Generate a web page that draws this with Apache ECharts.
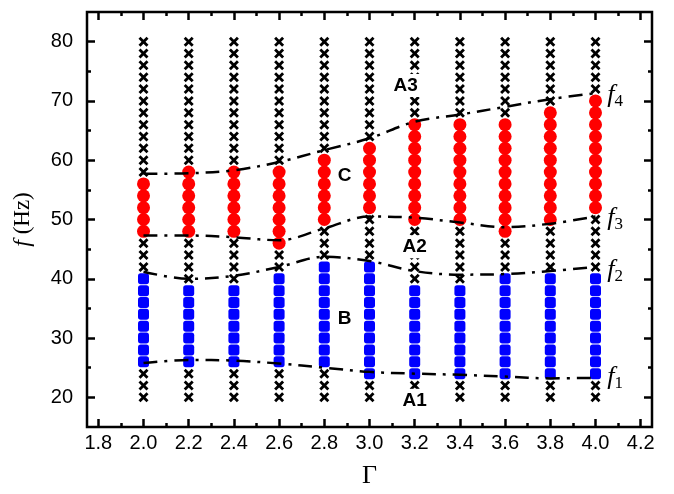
<!DOCTYPE html>
<html><head><meta charset="utf-8">
<script src="https://cdn.jsdelivr.net/npm/echarts@6/dist/echarts.min.js"></script>
<style>html,body{margin:0;padding:0;background:#fff}#c{width:674px;height:494px}</style>
</head><body><div id="c"></div>
<script>
// ---- data ----
const gammas = [2.0, 2.2, 2.4, 2.6, 2.8, 3.0, 3.2, 3.4, 3.6, 3.8, 4.0];
const freqs = [20, 22, 24, 26, 28, 30, 32, 34, 36, 38, 40, 42, 44, 46, 48, 50,
               52, 54, 56, 58, 60, 62, 64, 66, 68, 70, 72, 74, 76, 78, 80];
// red circles (region C) per column: highest and lowest frequency
const redHigh  = [56, 58, 58, 58, 60, 62, 66, 66, 66, 68, 70];
const redLow   = [48, 48, 48, 46, 50, 52, 50, 50, 48, 50, 52];
// blue squares (region B) per column
const blueHigh = [40, 38, 38, 40, 42, 42, 38, 38, 40, 40, 40];
const blueLow  = [26, 26, 26, 26, 26, 24, 24, 24, 24, 24, 24];
// boundary curves
const f1 = [25.8, 26.3, 26.2, 25.7, 25.0, 24.3, 24.0, 23.8, 23.5, 23.2, 23.3];
const f2 = [41.2, 40.0, 40.5, 42.0, 43.7, 43.0, 41.3, 40.7, 40.8, 41.3, 42.0];
const f3 = [47.3, 47.3, 47.0, 46.5, 48.5, 50.5, 50.3, 49.5, 48.7, 49.3, 50.5];
const f4 = [57.7, 57.8, 58.3, 59.7, 61.7, 63.7, 66.5, 67.7, 69.0, 70.3, 71.3];
// tick labels
const xTicks = [1.8, 2.0, 2.2, 2.4, 2.6, 2.8, 3.0, 3.2, 3.4, 3.6, 3.8, 4.0, 4.2];
const xMinorTicks = [1.9, 2.1, 2.3, 2.5, 2.7, 2.9, 3.1, 3.3, 3.5, 3.7, 3.9, 4.1];
const yTicks = [20, 30, 40, 50, 60, 70, 80];
const yMinorTicks = [25, 35, 45, 55, 65, 75];
// region labels
const regionLabels = [
  {name: 'A3', value: [3.16, 72.6]},
  {name: 'C',  value: [2.89, 57.3]},
  {name: 'A2', value: [3.2, 45.4]},
  {name: 'B',  value: [2.89, 33.3]},
  {name: 'A1', value: [3.2, 19.5]}
];
const curveLabels = [
  {name: '4', value: [4.05, 71.0]},
  {name: '3', value: [4.05, 50.3]},
  {name: '2', value: [4.05, 41.5]},
  {name: '1', value: [4.05, 23.4]}
];

// ---- build point sets ----
const crosses = [], circles = [], squares = [];
gammas.forEach((g, i) => {
  freqs.forEach(f => {
    if (f <= redHigh[i] && f >= redLow[i]) circles.push([g, f]);
    else if (f <= blueHigh[i] && f >= blueLow[i]) squares.push([g, f]);
    else crosses.push([g, f]);
  });
});
const pair = arr => gammas.map((g, i) => [g, arr[i]]);

const crossPath = 'path://M0,2L2,0L5,3L8,0L10,2L7,5L10,8L8,10L5,7L2,10L0,8L3,5Z';
const sans = 'Liberation Sans, Arial, sans-serif';
const serif = 'Liberation Serif, Times New Roman, serif';
const dashDot = [14, 7, 3, 7];

function xAxisDef(pos, ticks, len, labels) {
  return {
    type: 'value', min: 1.75, max: 4.25, position: pos,
    axisLine: {show: false}, splitLine: {show: false},
    axisTick: {show: true, inside: true, length: len, customValues: ticks,
               lineStyle: {color: '#000', width: 2.5}},
    axisLabel: labels ? {show: true, customValues: ticks, color: '#000',
               fontFamily: sans, fontSize: 20, margin: 6,
               formatter: v => v.toFixed(1)} : {show: false}
  };
}
function yAxisDef(pos, ticks, len, labels) {
  return {
    type: 'value', min: 15, max: 85, position: pos,
    axisLine: {show: false}, splitLine: {show: false},
    axisTick: {show: true, inside: true, length: len, customValues: ticks,
               lineStyle: {color: '#000', width: 2.5}},
    axisLabel: labels ? {show: true, customValues: ticks, color: '#000',
               fontFamily: sans, fontSize: 20, margin: 14} : {show: false}
  };
}

const xA = [xAxisDef('bottom', xTicks, 8, true), xAxisDef('bottom', xMinorTicks, 4, false),
            xAxisDef('top', xTicks, 8, false), xAxisDef('top', xMinorTicks, 4, false)];
xA[0].name = 'Γ';
xA[0].nameLocation = 'middle';
xA[0].nameGap = 36;
xA[0].nameTextStyle = {fontFamily: serif, fontSize: 26, color: '#000'};
const yA = [yAxisDef('left', yTicks, 8, true), yAxisDef('left', yMinorTicks, 4, false),
            yAxisDef('right', yTicks, 8, false), yAxisDef('right', yMinorTicks, 4, false)];
yA[0].name = '{i|f} (Hz)';
yA[0].nameLocation = 'middle';
yA[0].nameGap = 52;
yA[0].nameRotate = 90;
yA[0].nameTextStyle = {fontFamily: serif, fontSize: 23, color: '#000',
  rich: {i: {fontFamily: serif, fontStyle: 'italic', fontSize: 24, color: '#000'}}};

function curve(arr) {
  return {type: 'line', data: pair(arr), symbol: 'none', smooth: 0.35, z: 4,
          lineStyle: {color: '#000', width: 2.5, type: dashDot}, silent: true};
}

const option = {
  animation: false,
  backgroundColor: '#fff',
  grid: {left: 87, right: 22, top: 12, bottom: 66, show: true,
         borderColor: '#000', borderWidth: 2.5, backgroundColor: 'transparent'},
  xAxis: xA,
  yAxis: yA,
  series: [
    {type: 'scatter', data: crosses, symbol: crossPath, symbolSize: 10, z: 2,
     itemStyle: {color: '#000', opacity: 1}},
    {type: 'scatter', data: circles, symbol: 'circle', symbolSize: 13, z: 2,
     itemStyle: {color: '#ff0000', opacity: 1}},
    {type: 'scatter', data: squares, symbol: 'roundRect', symbolSize: 11, z: 2,
     itemStyle: {color: '#0000ff', opacity: 1}},
    curve(f1), curve(f2), curve(f3), curve(f4),
    {type: 'scatter', data: regionLabels, symbolSize: 1, z: 6,
     itemStyle: {color: 'rgba(0,0,0,0)', opacity: 1},
     label: {show: true, position: 'inside', formatter: p => p.name,
             fontFamily: sans, fontWeight: 'bold', fontSize: 19, opacity: 1,
             color: '#000', textBorderWidth: 0, textBorderColor: 'transparent',
             backgroundColor: '#fff', padding: [2, 3]}},
    {type: 'scatter', data: curveLabels, symbolSize: 1, z: 6,
     itemStyle: {color: 'rgba(0,0,0,0)', opacity: 1},
     label: {show: true, position: 'right', distance: 0, opacity: 1,
             formatter: p => '{i|f}{s|' + p.name + '}',
             rich: {i: {fontFamily: serif, fontStyle: 'italic', fontSize: 26, color: '#000', lineHeight: 30},
                    s: {fontFamily: serif, fontSize: 17, color: '#000', verticalAlign: 'bottom', lineHeight: 17}}}}
  ]
};
const chart = echarts.init(document.getElementById('c'), null, {renderer: 'canvas'});
chart.setOption(option);
</script>
</body></html>
